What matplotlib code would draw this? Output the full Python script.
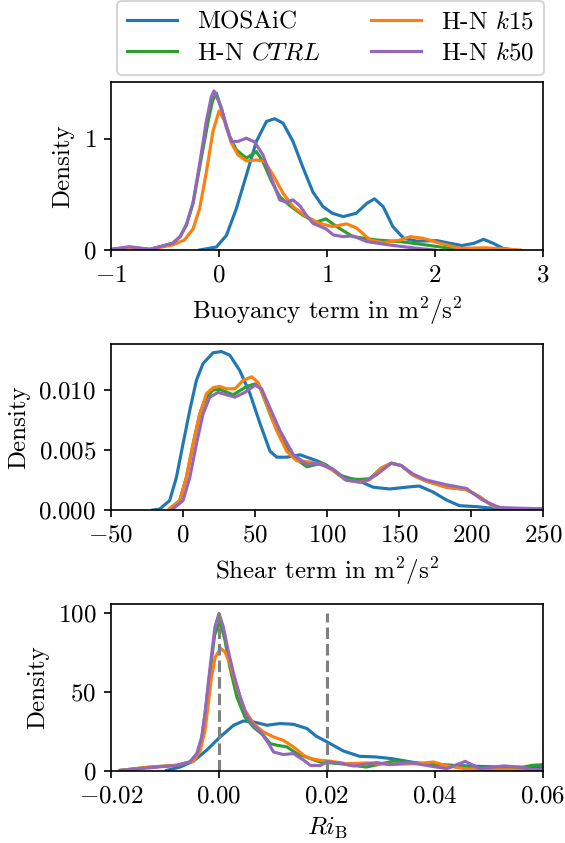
import matplotlib
matplotlib.use("Agg")
import matplotlib.pyplot as plt

plt.rcParams['font.family'] = 'serif'
plt.rcParams['font.serif'] = ['cmr10']
plt.rcParams['mathtext.fontset'] = 'cm'
plt.rcParams['axes.formatter.use_mathtext'] = True
plt.rcParams['font.size'] = 12

labels = ["MOSAiC", "H-N $CTRL$", "H-N $k15$", "H-N $k50$"]
colors = ["tab:blue", "tab:green", "tab:orange", "tab:purple"]

# buoyancy term
buoy_x_obs = [-0.18, -0.024, 0.068, 0.16, 0.254, 0.346, 0.44, 0.516, 0.593, 0.685, 0.78, 0.87,
              0.963, 1.05, 1.15, 1.27, 1.37, 1.44, 1.52, 1.61, 1.71, 1.83, 2.02, 2.14, 2.25, 2.36,
              2.45, 2.54, 2.63, 2.73]
buoy_y_obs = [0.0, 0.027, 0.13, 0.37, 0.675, 0.976, 1.156, 1.18, 1.14, 0.976, 0.735, 0.52,
              0.39, 0.33, 0.30, 0.33, 0.42, 0.46, 0.39, 0.21, 0.105, 0.08, 0.084, 0.06, 0.04, 0.06,
              0.096, 0.06, 0.015, 0.0]
buoy_x_ctrl = [-1.0, -0.83, -0.64, -0.43, -0.36, -0.30, -0.24, -0.18, -0.10, -0.06, -0.024,
               0.037, 0.10, 0.16, 0.254, 0.346, 0.407, 0.485, 0.562, 0.655, 0.78, 0.90, 0.99,
               1.09, 1.24, 1.46, 1.68, 1.92, 2.14, 2.3]
buoy_y_ctrl = [0.005, 0.024, 0.006, 0.06, 0.12, 0.23, 0.42, 0.74, 1.16, 1.34, 1.41,
               1.22, 1.02, 0.90, 0.825, 0.885, 0.795, 0.62, 0.48, 0.40, 0.31, 0.25, 0.28,
               0.21, 0.12, 0.09, 0.075, 0.045, 0.015, 0.0]
buoy_x_k15 = [-1.0, -0.83, -0.64, -0.43, -0.32, -0.24, -0.18, -0.117, -0.056, 0.0, 0.053, 0.115,
              0.176, 0.254, 0.346, 0.423, 0.50, 0.593, 0.685, 0.81, 0.93, 1.05, 1.18, 1.27, 1.40,
              1.52, 1.68, 1.77, 1.89, 2.05, 2.23, 2.47, 2.79]
buoy_y_k15 = [0.005, 0.02, 0.006, 0.045, 0.09, 0.19, 0.37, 0.70, 1.066, 1.25, 1.16, 0.96,
              0.855, 0.80, 0.81, 0.795, 0.675, 0.51, 0.39, 0.30, 0.24, 0.21, 0.235, 0.20, 0.09,
              0.066, 0.09, 0.12, 0.105, 0.06, 0.015, 0.02, 0.0]
buoy_x_k50 = [-1.0, -0.83, -0.64, -0.43, -0.36, -0.30, -0.24, -0.18, -0.117, -0.07, -0.046,
              0.022, 0.068, 0.115, 0.176, 0.254, 0.33, 0.407, 0.485, 0.562, 0.624, 0.685, 0.747,
              0.81, 0.87, 0.99, 1.06, 1.15, 1.24, 1.37, 1.58, 1.83, 2.0]
buoy_y_k50 = [0.005, 0.03, 0.006, 0.06, 0.12, 0.23, 0.43, 0.77, 1.16, 1.38, 1.43,
              1.28, 1.10, 0.976, 0.976, 1.005, 0.97, 0.855, 0.645, 0.45, 0.43, 0.45, 0.40,
              0.31, 0.24, 0.19, 0.135, 0.12, 0.127, 0.075, 0.045, 0.015, 0.0]

# shear term
shear_x_obs = [-20.8, -16.2, -9.3, -4.6, 0.0, 4.7, 9.3, 13.9, 20.9, 26.7, 32.5, 39.5, 46.5, 53.5,
               60.4, 65.1, 72, 81.3, 93, 99.5, 108.8, 122.7, 132, 143.5, 155, 164, 173.6, 183,
               192, 203.7, 215, 224.5, 250]
shear_y_obs = [0.0, 0.00008, 0.00078, 0.0027, 0.0055, 0.0083, 0.0108, 0.0122, 0.0131, 0.0132,
               0.0129, 0.0116, 0.0097, 0.0072, 0.0049, 0.0044, 0.0044, 0.0046, 0.0041, 0.00375,
               0.0029, 0.0024, 0.0019, 0.00175, 0.0019, 0.0020, 0.0015, 0.00083, 0.00036,
               0.00028, 0.00014, 0.00006, 0.00006]
shear_x_ctrl = [-9.3, -2.3, 2.3, 7.0, 11.6, 16.3, 20.9, 25.6, 34.9, 44.2, 50, 53.5, 60.4, 67.4,
                76.7, 86, 93, 97, 104, 113, 122.7, 129.6, 137.7, 144.7, 151.6, 159.7, 169, 183,
                196.8, 206, 215, 224.5, 250]
shear_y_ctrl = [0.0001, 0.00078, 0.0027, 0.0055, 0.0080, 0.0094, 0.0100, 0.01005, 0.0096, 0.0103,
                0.0105, 0.0102, 0.0080, 0.0061, 0.0044, 0.0036, 0.0038, 0.0038, 0.0034, 0.0026,
                0.00255, 0.0026, 0.0035, 0.0039, 0.0037, 0.0029, 0.0024, 0.0019, 0.0017, 0.0011,
                0.00033, 0.0001, 0.00008]
shear_x_k15 = [-9.3, -2.3, 2.3, 7.0, 11.6, 16.3, 20.9, 25.6, 30.2, 36, 41.8, 47.7, 52.3, 58.1,
               65.1, 72, 79, 88.3, 97, 104, 113, 122.7, 129.6, 137.7, 144.7, 151.6, 159.7, 169,
               183, 196.8, 206, 215, 224.5, 250]
shear_y_k15 = [0.0001, 0.00078, 0.0027, 0.0055, 0.0080, 0.0097, 0.0102, 0.0103, 0.0101, 0.0101,
               0.0108, 0.0111, 0.0106, 0.0088, 0.0066, 0.0049, 0.0041, 0.0040, 0.0038, 0.0033,
               0.0025, 0.0023, 0.0025, 0.0035, 0.0039, 0.0037, 0.0029, 0.0024, 0.0019, 0.0017,
               0.0011, 0.00033, 0.0001, 0.00008]
shear_x_k50 = [-7.0, 0.0, 4.7, 9.3, 13.9, 18.6, 24.4, 30.2, 36, 43, 50, 54.6, 60.4, 67.4, 76.7,
               86, 93, 104, 113, 124.8, 134, 144.7, 151.6, 159.7, 169, 183, 196.8, 208, 219.7, 250]
shear_y_k50 = [0.0001, 0.00078, 0.0027, 0.0055, 0.0080, 0.0094, 0.0098, 0.0096, 0.0094, 0.0098,
               0.0104, 0.0101, 0.0085, 0.0066, 0.0046, 0.0038, 0.0039, 0.0034, 0.0025, 0.0023,
               0.0029, 0.0039, 0.0037, 0.0030, 0.0025, 0.0021, 0.0018, 0.00083, 0.0002, 0.0001]

# bulk Richardson number
ri_x_obs = [-0.0097, -0.0072, -0.0047, -0.0023, 0.0002, 0.0027, 0.0045, 0.0064, 0.0089, 0.0113,
            0.0138, 0.0163, 0.018, 0.02, 0.023, 0.026, 0.029, 0.032, 0.0366, 0.040, 0.046, 0.052,
            0.06]
ri_y_obs = [0.4, 2.5, 6.3, 13.1, 21.5, 28.9, 31.6, 31.0, 28.9, 30.0, 29.5, 26.8, 22.0, 18.4,
            12.7, 9.3, 8.9, 7.8, 5.1, 4.0, 3.2, 2.5, 2.1]
ri_x_ctrl = [-0.0183, -0.0128, -0.0078, -0.0054, -0.0041, -0.0032, -0.0026, -0.002, -0.0014,
             -0.0008, 0.0002, 0.0011, 0.002, 0.0033, 0.0048, 0.0064, 0.0082, 0.0095, 0.0107,
             0.0126, 0.0144, 0.0169, 0.0187, 0.0224, 0.0273, 0.0323, 0.0366, 0.0428, 0.049,
             0.055, 0.058, 0.06]
ri_y_ctrl = [0.4, 2.5, 3.6, 5.7, 10.5, 20.5, 35, 53, 70, 86, 94.5, 82.7, 65.8, 46.8, 34.2, 27.6,
             22.6, 17.3, 16.3, 15.2, 11.0, 7.9, 5.7, 4.6, 2.5, 6.3, 5.0, 3.6, 1.9, 1.5, 3.6, 4.0]
ri_x_k15 = [-0.0183, -0.0128, -0.0078, -0.0054, -0.0047, -0.0035, -0.0026, -0.002, -0.0014,
            -0.0007, 0.0003, 0.0011, 0.002, 0.0033, 0.0048, 0.0064, 0.0082, 0.0101, 0.0119,
            0.0138, 0.0157, 0.0169, 0.0187, 0.0206, 0.0236, 0.0273, 0.0317, 0.0366, 0.0397,
            0.0422, 0.0459, 0.052, 0.06]
ri_y_k15 = [0.4, 2.5, 3.6, 5.7, 6.3, 12.7, 25.3, 42, 59, 72, 77.4, 75.3, 68, 53, 38.4, 30,
            24.7, 21.5, 19.4, 15.2, 9.9, 7.9, 6.8, 6.2, 4.6, 5.1, 4.2, 4.6, 5.7, 3.2, 1.3, 0.8, 0.6]
ri_x_k50 = [-0.0183, -0.0128, -0.0078, -0.0054, -0.0041, -0.0032, -0.0026, -0.002, -0.00136,
            -0.00074, 0.0, 0.0008, 0.0017, 0.0027, 0.0039, 0.0051, 0.0064, 0.0079, 0.0092,
            0.0101, 0.0119, 0.0138, 0.0157, 0.0169, 0.0187, 0.02, 0.0224, 0.0249, 0.0292, 0.0317,
            0.0354, 0.039, 0.0422, 0.0456, 0.0483, 0.0527, 0.0557, 0.0582, 0.06]
ri_y_k50 = [0.4, 2.0, 3.6, 5.7, 11.0, 21.5, 36.5, 55, 74, 91, 99.6, 91, 76, 61.6, 46.8, 35.3,
            28.9, 23.7, 17.3, 12.0, 10.4, 11.0, 6.8, 3.6, 3.4, 5.7, 5.0, 3.2, 5.3, 4.0, 5.3, 3.2,
            1.5, 6.1, 1.5, 3.2, 2.5, 0.8, 1.0]
ri_marks = [0.0, 0.02]

W, H = 565, 843
fig = plt.figure(figsize=(W / 150, H / 150), dpi=150)
ax1 = fig.add_axes([111 / W, 1 - 250 / H, 432 / W, 168 / H])
ax2 = fig.add_axes([111 / W, 1 - 510 / H, 432 / W, 166 / H])
ax3 = fig.add_axes([111 / W, 1 - 771 / H, 432 / W, 167 / H])

panels = [
    (ax1, [(buoy_x_obs, buoy_y_obs), (buoy_x_ctrl, buoy_y_ctrl), (buoy_x_k15, buoy_y_k15), (buoy_x_k50, buoy_y_k50)]),
    (ax2, [(shear_x_obs, shear_y_obs), (shear_x_ctrl, shear_y_ctrl), (shear_x_k15, shear_y_k15), (shear_x_k50, shear_y_k50)]),
    (ax3, [(ri_x_obs, ri_y_obs), (ri_x_ctrl, ri_y_ctrl), (ri_x_k15, ri_y_k15), (ri_x_k50, ri_y_k50)]),
]
for ax, series in panels:
    for (x, y), c, lab in zip(series, colors, labels):
        ax.plot(x, y, color=c, lw=1.5, label=lab)
    ax.set_ylabel("Density")

ax3.vlines(ri_marks, 0, 100, colors="gray", linestyles="--", lw=1.5)

ax1.set_xlim(-1, 3)
ax1.set_ylim(0, 1.51)
ax1.set_yticks([0, 1])
ax1.set_xlabel(r"Buoyancy term in $\mathrm{m}^2/\mathrm{s}^2$")

ax2.set_xlim(-50, 250)
ax2.set_xticks([-50, 0, 50, 100, 150, 200, 250])
ax2.set_ylim(0, 0.01383)
ax2.set_yticks([0, 0.005, 0.010])
ax2.set_xlabel(r"Shear term in $\mathrm{m}^2/\mathrm{s}^2$")

ax3.set_xlim(-0.02, 0.06)
ax3.set_ylim(0, 105.5)
ax3.set_yticks([0, 50, 100])
ax3.set_xlabel(r"$Ri_\mathrm{B}$")

handles, labs = ax1.get_legend_handles_labels()
fig.legend(handles, labs, loc="upper left", bbox_to_anchor=(117 / W, 1 - 1 / H), ncol=2,
           borderaxespad=0, labelspacing=0.35)

fig.savefig("out.png", dpi=150)
